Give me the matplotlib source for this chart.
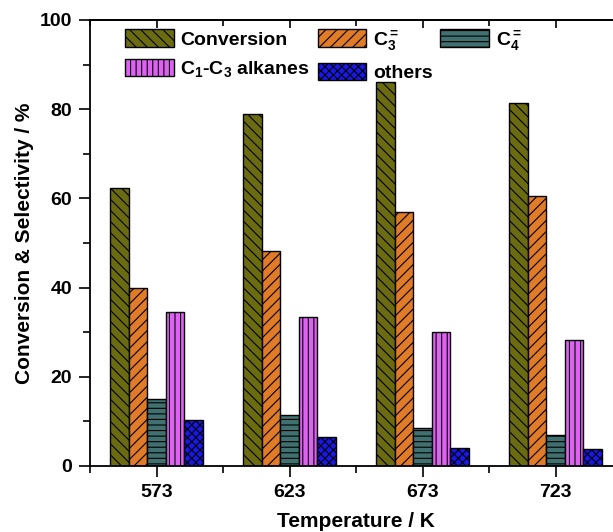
import numpy as np
import matplotlib
matplotlib.use("Agg")
import matplotlib.pyplot as plt
from matplotlib.ticker import MultipleLocator

plt.rcParams["font.family"] = ["Liberation Sans", "DejaVu Sans"]
plt.rcParams["font.weight"] = "bold"
plt.rcParams["mathtext.fontset"] = "custom"
plt.rcParams["mathtext.rm"] = "Liberation Sans:bold"
plt.rcParams["mathtext.it"] = "Liberation Sans:bold"
plt.rcParams["mathtext.bf"] = "Liberation Sans:bold"
plt.rcParams["mathtext.default"] = "regular"
plt.rcParams["hatch.linewidth"] = 0.8
plt.rcParams["hatch.color"] = "black"

temperatures = ["573", "623", "673", "723"]
conversion = [62.4, 79.0, 86.0, 81.3]
c3_olefin = [39.8, 48.2, 57.0, 60.5]
c4_olefin = [15.0, 11.5, 8.5, 7.0]
c1_c3_alkanes = [34.6, 33.3, 30.0, 28.3]
others = [10.4, 6.6, 4.1, 3.7]

series = [conversion, c3_olefin, c4_olefin, c1_c3_alkanes, others]
labels = ["Conversion", r"C$_3^=$", r"C$_4^=$", r"C$_1$-C$_3$ alkanes", "others"]
colors = ["#6b6b12", "#e07b28", "#407070", "#de62f2", "#1a18e6"]
hatches = ["\\\\\\", "///", "---", "|||", "xxxx"]

W, H = 613, 532
fig = plt.figure(figsize=(W / 100, H / 100), dpi=100)
ax = fig.add_axes([90 / W, 66 / H, 532 / W, 446 / H])

x = np.arange(len(temperatures))
width = 0.14
handles = []
for k, (vals, lab, col, hat) in enumerate(zip(series, labels, colors, hatches)):
    b = ax.bar(x + (k - 2) * width, vals, width, color=col, edgecolor="black",
               linewidth=1.0, hatch=hat, label=lab, zorder=2)
    handles.append(b)

ax.set_xlim(-0.5, 3.5)
ax.set_ylim(0, 100)
ax.set_xticks(x)
ax.set_xticklabels(temperatures)
ax.xaxis.set_minor_locator(MultipleLocator(0.5))
ax.yaxis.set_major_locator(MultipleLocator(20))
ax.yaxis.set_minor_locator(MultipleLocator(10))
ax.tick_params(axis="both", which="major", direction="out", length=8, width=1.2,
               labelsize=14, pad=5)
ax.tick_params(axis="both", which="minor", direction="out", length=5, width=1.2)
for s in ax.spines.values():
    s.set_linewidth(1.3)

top = ax.secondary_xaxis("top")
top.set_xticks(x)
top.xaxis.set_minor_locator(MultipleLocator(0.5))
top.tick_params(which="both", direction="in", labeltop=False, width=1.2)
top.tick_params(which="major", length=6)
top.tick_params(which="minor", length=4)
top.spines["top"].set_linewidth(1.3)

ax.set_xlabel("Temperature / K", fontsize=15, fontweight="bold", labelpad=8)
ax.set_ylabel("Conversion & Selectivity / %", fontsize=15, fontweight="bold", labelpad=4)

# legend fills column by column: reorder so rows read Conversion, C3=, C4= / alkanes, others
order = [0, 3, 1, 4, 2]
leg = ax.legend(handles=[handles[i] for i in order], labels=[labels[i] for i in order],
                ncol=3, loc="upper left",
                bbox_to_anchor=(0.051, 1.0), frameon=False, fontsize=14,
                handlelength=2.5, handleheight=1.0, handletextpad=0.35,
                columnspacing=0.4, labelspacing=0.5, borderaxespad=0.0)

fig.savefig("out.png", dpi=100)
